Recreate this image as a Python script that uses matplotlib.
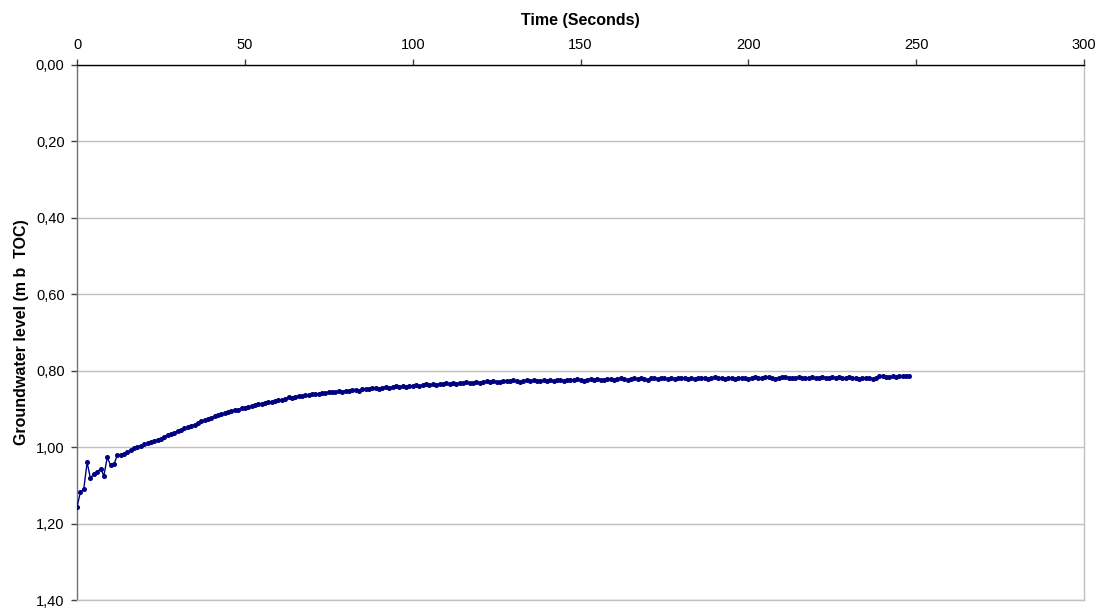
import numpy as np
import matplotlib
matplotlib.use('Agg')
import matplotlib.pyplot as plt
from matplotlib.ticker import FuncFormatter

plt.rcParams['font.family'] = ['Liberation Sans', 'DejaVu Sans']

# Water level readings, one per second (m below top of casing)
level = [
    1.156, 1.118, 1.110, 1.040, 1.082, 1.069, 1.066, 1.056, 1.075, 1.027,
    1.047, 1.045, 1.021, 1.021, 1.018, 1.013, 1.008, 1.003, 0.999, 0.997,
    0.993, 0.990, 0.987, 0.985, 0.980, 0.978, 0.973, 0.968, 0.966, 0.962,
    0.957, 0.955, 0.950, 0.948, 0.944, 0.941, 0.937, 0.932, 0.930, 0.926,
    0.924, 0.919, 0.917, 0.914, 0.910, 0.909, 0.906, 0.903, 0.902, 0.898,
    0.897, 0.895, 0.893, 0.891, 0.886, 0.888, 0.884, 0.881, 0.882, 0.878,
    0.876, 0.877, 0.873, 0.870, 0.871, 0.868, 0.866, 0.867, 0.863, 0.864,
    0.862, 0.860, 0.861, 0.858, 0.859, 0.856, 0.857, 0.855, 0.853, 0.855,
    0.852, 0.854, 0.851, 0.850, 0.852, 0.849, 0.847, 0.849, 0.846, 0.845,
    0.847, 0.844, 0.843, 0.845, 0.842, 0.841, 0.843, 0.840, 0.842, 0.839,
    0.840, 0.838, 0.840, 0.837, 0.836, 0.838, 0.835, 0.837, 0.834, 0.835,
    0.833, 0.834, 0.832, 0.834, 0.831, 0.833, 0.830, 0.832, 0.831, 0.829,
    0.831, 0.830, 0.828, 0.830, 0.827, 0.829, 0.830, 0.827, 0.826, 0.828,
    0.825, 0.827, 0.829, 0.826, 0.825, 0.827, 0.824, 0.826, 0.828, 0.825,
    0.826, 0.824, 0.827, 0.825, 0.823, 0.826, 0.824, 0.823, 0.825, 0.822,
    0.824, 0.826, 0.823, 0.822, 0.824, 0.821, 0.823, 0.825, 0.822, 0.821,
    0.823, 0.822, 0.820, 0.822, 0.824, 0.821, 0.820, 0.822, 0.819, 0.821,
    0.823, 0.820, 0.819, 0.821, 0.818, 0.820, 0.822, 0.819, 0.821, 0.820,
    0.818, 0.820, 0.822, 0.819, 0.821, 0.820, 0.818, 0.820, 0.821, 0.819,
    0.817, 0.820, 0.819, 0.821, 0.818, 0.820, 0.822, 0.819, 0.818, 0.820,
    0.821, 0.819, 0.817, 0.820, 0.818, 0.816, 0.817, 0.819, 0.821, 0.818,
    0.817, 0.816, 0.818, 0.820, 0.819, 0.817, 0.818, 0.820, 0.818, 0.817,
    0.819, 0.818, 0.816, 0.818, 0.819, 0.817, 0.818, 0.816, 0.818, 0.819,
    0.817, 0.818, 0.819, 0.821, 0.820, 0.818, 0.819, 0.821, 0.820, 0.815,
    0.814, 0.816, 0.817, 0.815, 0.817, 0.814, 0.815, 0.813, 0.814,
]
time_s = list(range(len(level)))

x_ticks = [0, 50, 100, 150, 200, 250, 300]
y_ticks = [0.0, 0.2, 0.4, 0.6, 0.8, 1.0, 1.2, 1.4]

fig = plt.figure(figsize=(11.02, 6.12), dpi=100)
ax = fig.add_axes([0.0699, 0.0196, 0.9138, 0.8742])

ax.plot(time_s, level, color='#000080', lw=1.0, marker='o', ms=2.6,
        mec='#000080', mfc='#000080', zorder=3)

ax.set_xlim(0, 300)
ax.set_ylim(1.4, 0.0)
ax.set_xticks(x_ticks)
ax.set_yticks(y_ticks)
ax.yaxis.set_major_formatter(FuncFormatter(lambda v, p: f'{v:.2f}'.replace('.', ',')))

ax.xaxis.tick_top()
ax.xaxis.set_label_position('top')
ax.tick_params(axis='both', direction='out', length=4, width=1,
               labelsize=10.5, color='#404040', pad=5)

ax.grid(axis='y', color='#c0c0c0', lw=1)
ax.set_axisbelow(True)

ax.spines['top'].set_color('black')
ax.spines['left'].set_color('#707070')
ax.spines['right'].set_color('#c0c0c0')
ax.spines['bottom'].set_color('#c0c0c0')
for s in ax.spines.values():
    s.set_linewidth(1)

ax.set_xlabel('Time (Seconds)', fontsize=11.5, fontweight='bold', labelpad=10)
ax.set_ylabel('Groundwater level (m b  TOC)', fontsize=11.5, fontweight='bold', labelpad=5)

fig.savefig('out.png', dpi=100)
